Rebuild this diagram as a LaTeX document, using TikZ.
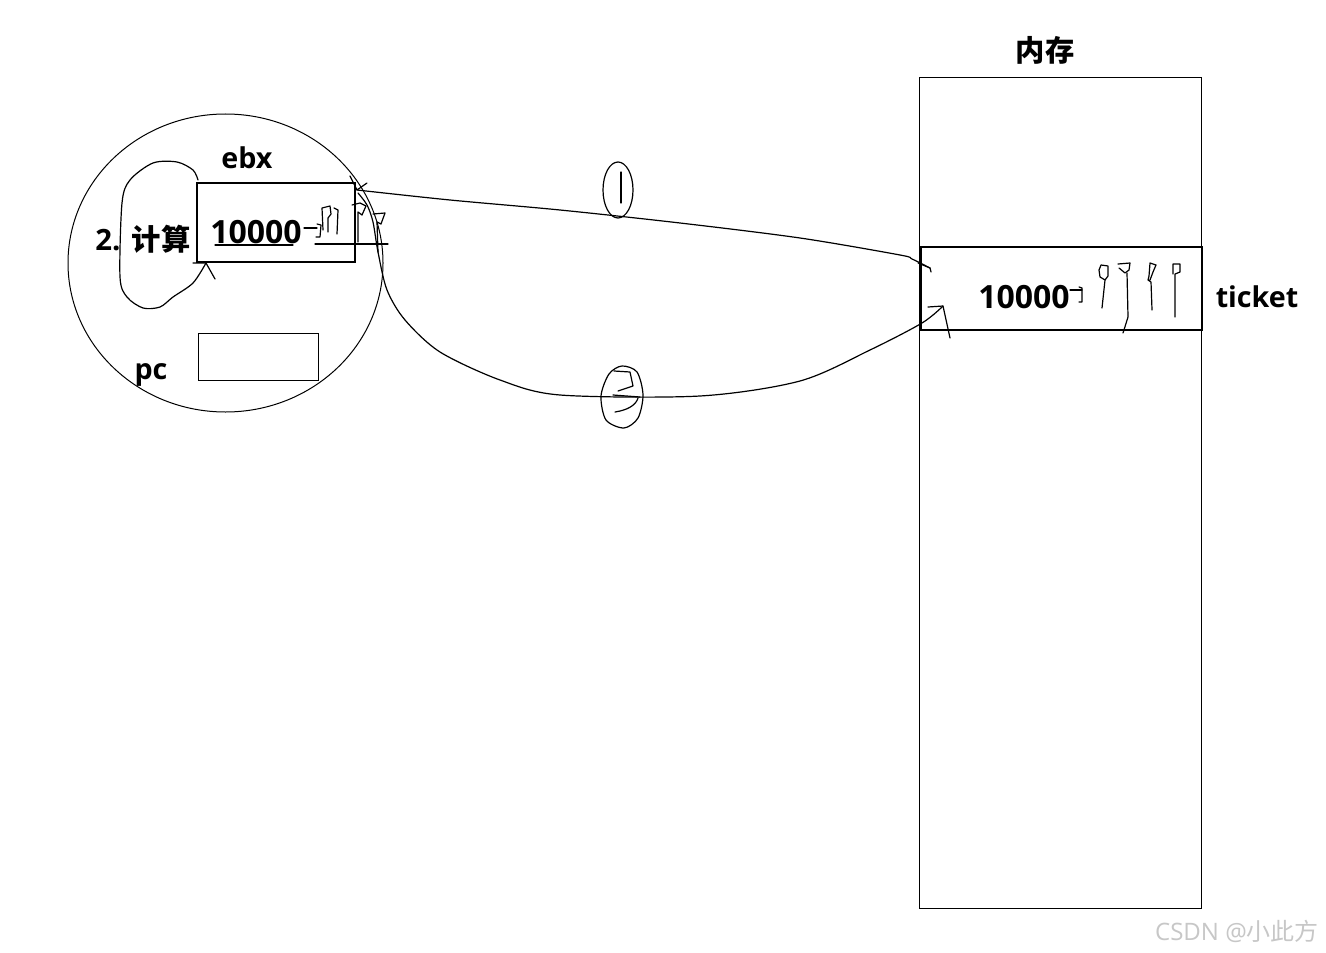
\documentclass[tikz,border=0pt]{standalone}
\usepackage{fontspec}
\setmainfont{Open Sans}
\newfontfamily\cjk{Noto Sans CJK SC}
\begin{document}
\begin{tikzpicture}[x=0.75pt,y=-0.75pt,
  thin line/.style={line width=0.75pt},
  pen/.style={line width=0.9pt,line cap=round,line join=round},
  lbl/.style={inner sep=0pt,font=\bfseries\fontsize{21.5}{24}\selectfont},
  num/.style={inner sep=0pt,font=\bfseries\fontsize{24}{26}\selectfont},
  zh/.style={inner sep=0pt,font=\cjk\bfseries\fontsize{22}{24}\selectfont}]
\useasboundingbox (0,0) rectangle (1326,952);
\fill[white] (0,0) rectangle (1326,952);

% memory
\draw[thin line] (919,78) rectangle (1201,908);
\node[zh] (memlbl) at (1045,50) {内存};
\draw[line width=1.5pt] (921,247) rectangle (1202,330);
\node[num] (tnum) at (1024,297) {10000};
\node[lbl] (ticket) at (1257,297) {ticket};

% cpu circle
\draw[thin line] (225.5,263) ellipse [x radius=157.5, y radius=149];
\draw[line width=1.5pt] (197,183) rectangle (355,262);
\node[lbl] (ebx) at (247,158) {ebx};
\node[num] (enum) at (256,232) {10000};
\draw[thin line] (198,333) rectangle (318,380);
\node[lbl] (pc) at (151,375) {pc};
\node[inner sep=0pt,font=\bfseries\fontsize{22}{24}\selectfont] (two) at (108,240) {2.};
\node[zh] (calc) at (161,239) {计算};

% loop around calc
\coordinate (ls) at (198,180);
\coordinate (le) at (206,263);
\draw[pen] plot[smooth] coordinates {(ls) (193,170) (177,162) (153,163) (130,180) (122,203) (120,277) (127,297) (143,308) (160,307) (173,297) (193,283) (le)};
\draw[pen] (193,263) -- (le) -- (215,279);

% ebx scribbles
\draw[pen] (215,245) -- (293,245);
\draw[pen] (304,228) -- (317,228);
\draw[pen] (317,224) -- (321,225) -- (320,237) -- (316,237);
\draw[pen] (323,230) -- (322,208) -- (330,206) -- (331,214) -- (328,218) -- (328,232);
\draw[pen] (334,208) -- (338,210) -- (337,234);
\draw[pen] (352,205) -- (360,203) -- (366,206) -- (362,215) -- (358,212) -- (358,242);
\draw[pen] (373,214) -- (385,213) -- (381,224) -- (377,222) -- (378,252);
\draw[pen] (315,244) -- (388,244);

% connector 1 : memory -> ebx
\coordinate (c1s) at (930,268);
\coordinate (c1e) at (357,190);
\draw[pen] plot[smooth] coordinates {(c1s) (912,259) (900,255) (800,238) (680,223) (560,210) (450,200) (c1e)};
\draw[pen] (350,176) -- (c1e) -- (367,183);
\draw[pen] (918,263) -- (930,268) -- (931,272);
\draw[pen] (618,190) ellipse [x radius=15, y radius=28];
\draw[pen] (621,172) -- (621,203);
\node[inner sep=0pt] (one) at (618,190) {};

% connector 2 : ebx -> memory
\coordinate (c2s) at (358,193);
\coordinate (c2e) at (943,306);
\draw[pen] plot[smooth] coordinates {(c2s) (367,205) (373,222) (378,252) (387,290) (405,320) (440,352) (500,380) (560,395) (700,396) (800,381) (870,350) (922,323) (c2e)};
\draw[pen] (928,307) -- (c2e) -- (950,338);
\draw[pen] plot[smooth cycle] coordinates {(622,366) (637,372) (643,395) (638,418) (624,428) (606,420) (601,396) (609,374)};
\draw[pen] (614,371) -- (630,372) -- (633,386) -- (618,391);
\draw[pen] (613,395) -- (640,397);
\draw[pen] (615,412) .. controls (628,410) and (636,405) .. (638,398);
\node[inner sep=0pt] (twolbl) at (622,396) {};

% ticket scribbles
\draw[pen] (1070,290) -- (1082,290);
\draw[pen] (1079,287) -- (1082,288) -- (1082,302) -- (1079,302);
\draw[pen] (1102,308) -- (1105,280) -- (1108,276) -- (1108,266) -- (1101,265) -- (1099,270) -- (1100,277) -- (1105,280);
\draw[pen] (1118,264) -- (1130,263) -- (1129,270) -- (1125,273) -- (1119,268);
\draw[pen] (1127,273) -- (1128,317) -- (1123,333);
\draw[pen] (1150,280) -- (1153,272) -- (1156,265) -- (1150,263) -- (1149,276) -- (1148,280) -- (1151,282) -- (1152,310);
\draw[pen] (1173,274) -- (1173,264) -- (1180,264) -- (1180,272) -- (1175,274) -- (1175,317);

% watermark
\node[inner sep=0pt,text=black!22,font=\fontsize{18}{20}\selectfont] (wm) at (1237,931) {CSDN @{\cjk 小此方}};
\end{tikzpicture}
\end{document}
